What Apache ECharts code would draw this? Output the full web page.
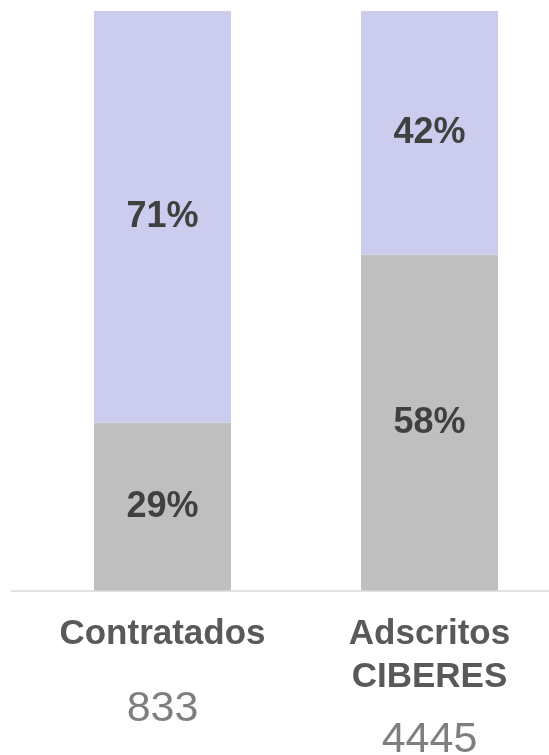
<!DOCTYPE html>
<html>
<head>
<meta charset="utf-8">
<script src="https://cdn.jsdelivr.net/npm/echarts@6/dist/echarts.min.js"></script>
<style>
  html, body { margin: 0; padding: 0; background: #fff; }
  #main { width: 549px; height: 755px; }
</style>
</head>
<body>
<div id="main"></div>
<script>
// chart data
var categories = ['Contratados', 'Adscritos\nCIBERES'];
var totals = [833, 4445];
var grayShare = [29, 58];
var purpleShare = [71, 42];

var chartDom = document.getElementById('main');
var myChart = echarts.init(chartDom);
var option;

var pctLabel = {
    show: true,
    position: 'inside',
    formatter: '{c}%',
    color: '#404040',
    fontSize: 36,
    fontWeight: 'bold',
    fontFamily: 'Liberation Sans'
};

option = {
    animation: false,
    grid: {
        left: 29,
        width: 534,
        top: 11,
        bottom: 164,
        containLabel: false,
        outerBoundsMode: 'none'
    },
    graphic: [
        {
            type: 'line',
            shape: { x1: 11, y1: 591, x2: 549, y2: 591 },
            style: { stroke: '#d9d9d9', lineWidth: 1.5 },
            z: 10
        }
    ],
    xAxis: {
        type: 'category',
        data: categories,
        axisLine: { show: false },
        axisTick: { show: false },
        axisLabel: {
            interval: 0,
            margin: 22,
            verticalAlign: 'top',
            fontFamily: 'Liberation Sans',
            formatter: function (value, idx) {
                var lines = value.split('\n').map(function (l) {
                    return '{name|' + l + '}';
                });
                var numStyle = idx === 0 ? 'numA' : 'numB';
                return lines.join('\n') + '\n{' + numStyle + '|' + totals[idx] + '}';
            },
            rich: {
                name: {
                    fontSize: 35,
                    fontWeight: 'bold',
                    color: '#595959',
                    lineHeight: 43,
                    fontFamily: 'Liberation Sans'
                },
                numA: {
                    fontSize: 43,
                    color: '#7f7f7f',
                    lineHeight: 107,
                    fontFamily: 'Liberation Sans'
                },
                numB: {
                    fontSize: 43,
                    color: '#7f7f7f',
                    lineHeight: 83,
                    fontFamily: 'Liberation Sans'
                }
            }
        }
    },
    yAxis: {
        type: 'value',
        min: 0,
        max: 100,
        show: false,
        splitLine: { show: false }
    },
    series: [
        {
            type: 'bar',
            stack: 'total',
            barWidth: 137,
            data: grayShare,
            itemStyle: { color: '#bfbfbf' },
            label: pctLabel
        },
        {
            type: 'bar',
            stack: 'total',
            barWidth: 137,
            data: purpleShare,
            itemStyle: { color: '#ccccee' },
            label: pctLabel
        }
    ]
};

option && myChart.setOption(option);
</script>
</body>
</html>
